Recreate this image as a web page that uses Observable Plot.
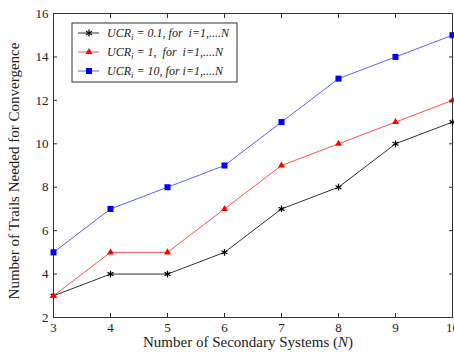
<!DOCTYPE html>
<html><head><meta charset="utf-8">
<script src="https://cdn.jsdelivr.net/npm/d3@7"></script>
<script src="https://cdn.jsdelivr.net/npm/@observablehq/plot@0.6"></script>
<style>
html,body{margin:0;padding:0;background:#fff;}
#chart{position:relative;width:454px;height:354px;}
#chart g[aria-label="x-axis tick label"] text,
#chart g[aria-label="y-axis tick label"] text{font-size:13px;}
</style>
</head><body>
<div id="chart"></div>
<script>
const N = [3, 4, 5, 6, 7, 8, 9, 10];
const ucr01 = [3, 4, 4, 5, 7, 8, 10, 11];
const ucr1 = [3, 5, 5, 7, 9, 10, 11, 12];
const ucr10 = [5, 7, 8, 9, 11, 13, 14, 15];
const xTicks = [3, 4, 5, 6, 7, 8, 9, 10];
const yTicks = [2, 4, 6, 8, 10, 12, 14, 16];
const seriesNames = ["0.1", "1", "10"];
const legendLabels = ["= 0.1, for  i=1,....N", "= 1,  for  i=1,....N", "= 10, for i=1,....N"];

const series = [
  {name: "0.1", values: ucr01, line: "#333333", fill: "#000000", symbol: "asterisk", r: 3.2},
  {name: "1", values: ucr1, line: "#ff5050", fill: "#ff0000", symbol: "triangle", r: 2.6},
  {name: "10", values: ucr10, line: "#6060ff", fill: "#0000ff", symbol: "square", r: 3.4}
];
const rows = series.flatMap(s => N.map((n, i) => ({n, v: s.values[i], s: s.name})));

const marks = [Plot.frame({stroke: "#333"})];
for (const s of series) {
  const d = rows.filter(r => r.s === s.name);
  marks.push(Plot.line(d, {x: "n", y: "v", stroke: s.line, strokeWidth: 1}));
  if (s.symbol === "asterisk") {
    marks.push(Plot.dot(d, {x: "n", y: "v", symbol: "asterisk", r: s.r, stroke: s.fill, strokeWidth: 1.2}));
  } else {
    marks.push(Plot.dot(d, {x: "n", y: "v", symbol: s.symbol, r: s.r, fill: s.fill, stroke: null}));
  }
}
marks.push(
  Plot.axisX(xTicks, {anchor: "bottom", tickSize: -4, text: null, stroke: "#333"}),
  Plot.axisX(xTicks, {anchor: "top", tickSize: -4, text: null, stroke: "#333", label: null}),
  Plot.axisX(xTicks, {anchor: "bottom", tickSize: 0, tickPadding: 5, label: null, fill: "#222"}),
  Plot.axisY(yTicks, {anchor: "left", tickSize: -4, text: null, stroke: "#333"}),
  Plot.axisY(yTicks, {anchor: "right", tickSize: -4, text: null, stroke: "#333", label: null}),
  Plot.axisY(yTicks, {anchor: "left", tickSize: 0, tickPadding: 5, label: null, fill: "#222"})
);

const plot = Plot.plot({
  width: 454, height: 354,
  marginLeft: 53, marginRight: 2, marginTop: 13, marginBottom: 37,
  style: {fontFamily: "'Liberation Serif', serif", fontSize: "13px", color: "#222", background: "#fff", overflow: "visible"},
  x: {domain: [3, 10], label: null},
  y: {domain: [2, 16], label: null},
  marks
});
document.getElementById("chart").appendChild(plot);

const svg = d3.select(plot);
// Axis titles
const xt = svg.append("text").attr("x", 248).attr("y", 347).attr("text-anchor", "middle")
  .attr("font-size", 15).attr("fill", "#222");
xt.append("tspan").text("Number of Secondary Systems (");
xt.append("tspan").attr("font-style", "italic").text("N");
xt.append("tspan").text(")");
svg.append("text").attr("transform", "translate(19,171) rotate(-90)").attr("text-anchor", "middle")
  .attr("font-size", 15).attr("fill", "#222").text("Number of Trails Needed for Convergence");

// Legend
const lg = svg.append("g");
lg.append("rect").attr("x", 72).attr("y", 23).attr("width", 165).attr("height", 59)
  .attr("fill", "#fff").attr("stroke", "#333").attr("stroke-width", 1);
series.forEach((s, i) => {
  const y = 33 + i * 19;
  lg.append("line").attr("x1", 78).attr("x2", 99).attr("y1", y).attr("y2", y).attr("stroke", s.line);
  const sym = {asterisk: d3.symbolAsterisk, triangle: d3.symbolTriangle, square: d3.symbolSquare}[s.symbol];
  const p = lg.append("path").attr("transform", `translate(89,${y})`)
    .attr("d", d3.symbol(sym, Math.PI * s.r * s.r)());
  if (s.symbol === "asterisk") p.attr("fill", "none").attr("stroke", s.fill).attr("stroke-width", 1.2);
  else p.attr("fill", s.fill);
  const t = lg.append("text").attr("x", 107).attr("y", y + 4).attr("font-size", 12)
    .attr("text-anchor", "start").attr("font-style", "italic").attr("fill", "#222");
  t.append("tspan").text("UCR");
  t.append("tspan").attr("font-size", 9).attr("dy", 3).text("i");
  t.append("tspan").attr("dy", -3).text(" " + legendLabels[i]);
});
</script>
</body></html>
